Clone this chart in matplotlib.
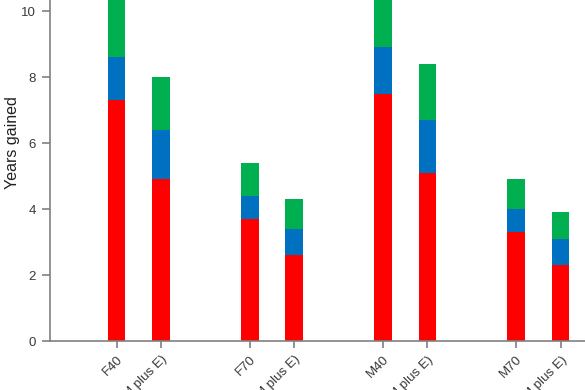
import matplotlib
matplotlib.use("Agg")
import matplotlib.pyplot as plt
import numpy as np

categories = ["F40", "F40 (M plus E)", "F70", "F70 (M plus E)",
              "M40", "M40 (M plus E)", "M70", "M70 (M plus E)"]
positions = [0, 1, 3, 4, 6, 7, 9, 10]
red_vals = [7.3, 4.9, 3.7, 2.6, 7.5, 5.1, 3.3, 2.3]
blue_vals = [1.3, 1.5, 0.7, 0.8, 1.4, 1.6, 0.7, 0.8]
green_vals = [2.6, 1.6, 1.0, 0.9, 2.5, 1.7, 0.9, 0.8]
yticks = [0, 2, 4, 6, 8, 10]

plt.rcParams['font.family'] = ['Liberation Sans', 'DejaVu Sans']

fig = plt.figure(figsize=(5.85, 3.9), dpi=100)
W, H = 585, 390
xlim = (-1.5, 11.0)
ylim = (0, 12)
pxx = 44.4
pxy = 33.0
left_px = 50
bottom_px = 49
ax = fig.add_axes([left_px / W, bottom_px / H,
                   (xlim[1] - xlim[0]) * pxx / W, (ylim[1] - ylim[0]) * pxy / H])

red = np.array(red_vals)
blue = np.array(blue_vals)
green = np.array(green_vals)
w = 0.4
ax.bar(positions, red, width=w, color="#FF0000")
ax.bar(positions, blue, width=w, bottom=red, color="#0070C0")
ax.bar(positions, green, width=w, bottom=red + blue, color="#00B050")

ax.set_xlim(*xlim)
ax.set_ylim(*ylim)
ax.set_yticks(yticks)
ax.set_xticks(positions)
ax.set_xticklabels(categories, rotation=45, ha="right", rotation_mode="anchor")
for s in ["top", "right"]:
    ax.spines[s].set_visible(False)
for s in ["left", "bottom"]:
    ax.spines[s].set_color("#808080")
    ax.spines[s].set_linewidth(1.2)
ax.tick_params(axis="both", direction="out", length=6, width=1.2, color="#808080",
               labelsize=9.5, labelcolor="#3a3a3a", pad=4)
ax.tick_params(axis="x", length=5)
ax.set_ylabel("Years gained", fontsize=11.5, color="#222222", labelpad=1)

fig.savefig("out.png", dpi=100)
